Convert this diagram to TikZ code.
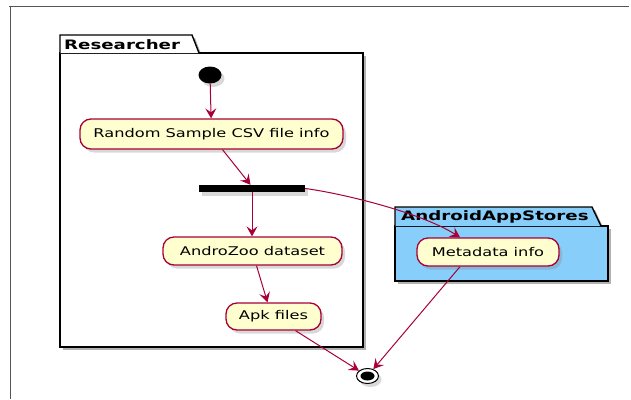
\documentclass[tikz,border=0pt]{standalone}
\usepackage{fontspec}
\setmainfont{DejaVu Sans}
\newfontfamily\actfont[FakeStretch=1.35]{DejaVu Sans}
\newfontfamily\pkgfont[FakeStretch=1.4]{DejaVu Sans}
\usetikzlibrary{arrows.meta,shadows,shapes.geometric}

\definecolor{umlred}{HTML}{A80036}
\definecolor{actfill}{HTML}{FEFECE}
\definecolor{storefill}{HTML}{87CEFA}
\definecolor{framegray}{HTML}{555555}

\tikzset{
  softshadow/.style={drop shadow={opacity=0.3, shadow xshift=3pt, shadow yshift=-3.5pt}},
  activity/.style={draw=umlred, fill=actfill, line width=1.3pt, rounded corners=11pt,
    font=\actfont\fontsize{12}{14}\selectfont, inner sep=0pt, softshadow},
  flow/.style={draw=umlred, line width=1pt, -{Stealth[length=10pt,width=11pt,inset=4pt]}},
  pkgline/.style={draw=black, line width=1.4pt, line join=miter},
  pkgshadow/.style={fill=black, opacity=0.3},
  pkglabel/.style={font=\pkgfont\bfseries\fontsize{13}{15}\selectfont, anchor=west, inner sep=0pt},
  startdot/.style={ellipse, fill=black, minimum width=23pt, minimum height=17pt, inner sep=0pt, softshadow},
  forkbar/.style={rectangle, fill=black, minimum width=106pt, minimum height=7pt, inner sep=0pt, softshadow}
}

\begin{document}
\begin{tikzpicture}[x=1pt, y=-1pt]
  \useasboundingbox (0,0) rectangle (631,399);

  % page frame (top and left edges)
  \draw[framegray, line width=0.9pt] (9,6) -- (629,6);
  \draw[framegray, line width=0.9pt] (10,6) -- (10,399);

  % package: Researcher
  \fill[pkgshadow] (63,56) rectangle (366,350);
  \fill[pkgshadow] (63,38) -- (195,38) -- (202,56) -- (63,56) -- cycle;
  \draw[pkgline, fill=white] (60,53) rectangle (363,347);
  \draw[pkgline, fill=white] (60,53) -- (60,35) -- (192,35) -- (199,53);
  \node[pkglabel] (reslabel) at (64,44.5) {Researcher};

  % package: AndroidAppStores
  \fill[pkgshadow] (398,229) rectangle (611,284);
  \fill[pkgshadow] (398,210) -- (595,210) -- (604,229) -- (398,229) -- cycle;
  \draw[pkgline, fill=storefill] (395,226) rectangle (608,281);
  \draw[pkgline, fill=storefill] (395,226) -- (395,207) -- (592,207) -- (601,226);
  \node[pkglabel] (storelabel) at (401,216.5) {AndroidAppStores};

  % activity nodes
  \node[startdot] (start) at (210,75) {};
  \node[activity, minimum width=263pt, minimum height=30pt] (csv) at (211.5,134) {Random Sample CSV file info};
  \node[forkbar] (bar) at (252,188.5) {};
  \node[activity, minimum width=179pt, minimum height=28pt] (azoo) at (252.5,251) {AndroZoo dataset};
  \node[activity, minimum width=95pt, minimum height=27pt] (apk) at (273.5,316.5) {Apk files};
  \node[activity, minimum width=142pt, minimum height=28pt] (meta) at (488,252) {Metadata info};

  % end marker
  \node[ellipse, draw=black, fill=white, line width=1pt, minimum width=22pt, minimum height=15pt,
        inner sep=0pt, softshadow] (endc) at (367.5,376) {};
  \node[ellipse, fill=black, minimum width=14pt, minimum height=9pt, inner sep=0pt] (enddot) at (endc.center) {};

  % flows
  \draw[flow] (start) -- (csv);
  \draw[flow] ([xshift=11pt]csv.south) -- ([xshift=-1.5pt]bar.north);
  \draw[flow] (bar.south) -- ([xshift=-0.5pt]azoo.north);
  \draw[flow] (bar.east) .. controls (340,193) and (420,212) .. ([xshift=-28pt]meta.north);
  \draw[flow] ([xshift=4pt]azoo.south) -- ([xshift=-6pt]apk.north);
  \draw[flow] ([xshift=22pt]apk.south) -- (endc);
  \draw[flow] ([xshift=-28pt]meta.south) -- (endc);
\end{tikzpicture}
\end{document}
